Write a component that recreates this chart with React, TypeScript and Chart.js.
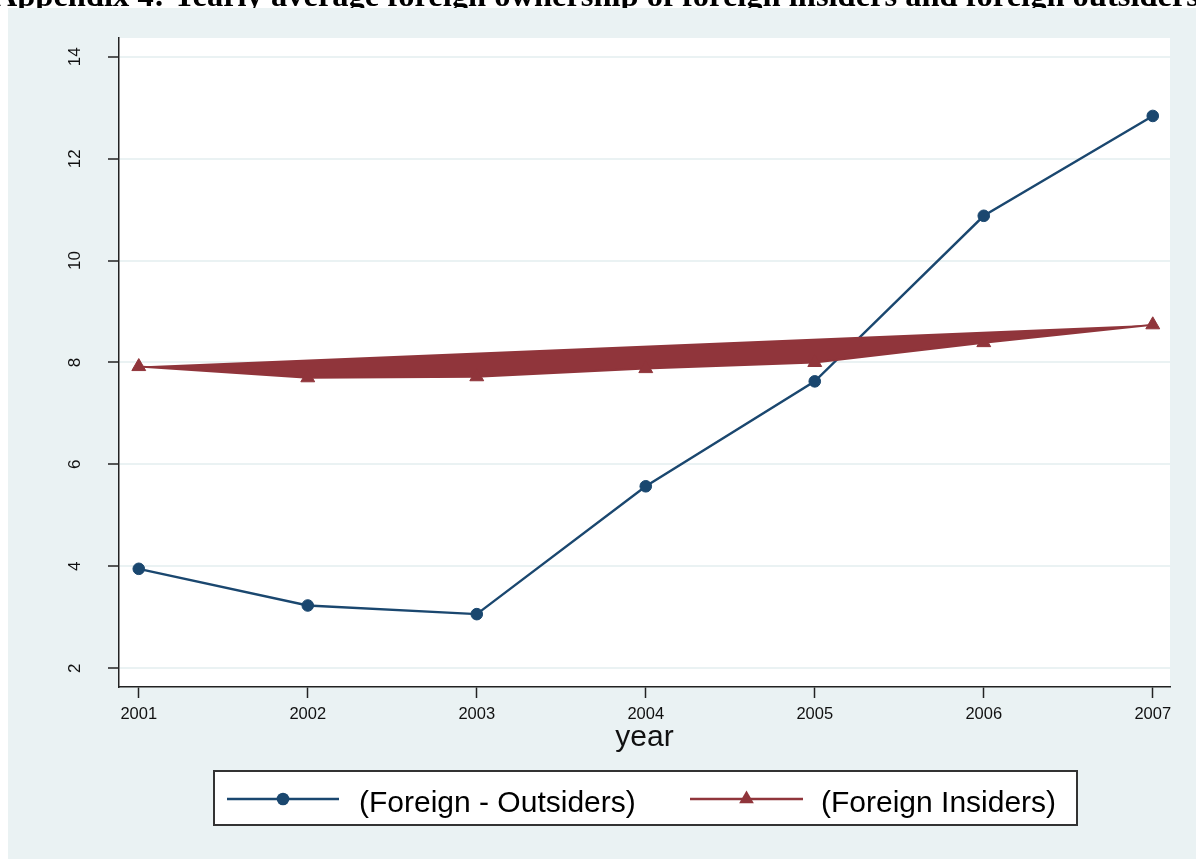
import React, { useEffect, useRef } from 'react';
import { Chart, registerables } from 'chart.js';

Chart.register(...registerables);

const years = [2001, 2002, 2003, 2004, 2005, 2006, 2007];
const outsiders = [3.95, 3.23, 3.06, 5.57, 7.63, 10.88, 12.84];
const insiders = [7.92, 7.7, 7.72, 7.88, 8.0, 8.39, 8.74];
const yTicks = [2, 4, 6, 8, 10, 12, 14];
const xTicks = [2001, 2002, 2003, 2004, 2005, 2006, 2007];
const seriesLabels = ['(Foreign - Outsiders)', '(Foreign Insiders)'];
const titleText =
  'Appendix 4: Yearly average foreign ownership of foreign insiders and foreign outsiders';
const xAxisTitle = 'year';

const NAVY = '#1a476f';
const MAROON = '#90353b';
const PANEL = '#eaf2f3';
const AXIS = '#222222';
const SANS = '"Liberation Sans", Arial, sans-serif';

const W = 1196;
const H = 859;

const framePlugin = {
  id: 'frame',
  beforeDraw(chart: any) {
    const { ctx, chartArea: a } = chart;
    ctx.save();
    ctx.fillStyle = '#ffffff';
    ctx.fillRect(0, 0, W, H);
    ctx.fillStyle = '#000000';
    ctx.font = 'bold 32.5px "Liberation Serif", "Times New Roman", serif';
    ctx.textAlign = 'right';
    ctx.textBaseline = 'alphabetic';
    ctx.fillText(titleText, 1199, 6);
    ctx.fillStyle = PANEL;
    ctx.fillRect(8, 8, W - 8, H - 8);
    ctx.fillStyle = '#ffffff';
    ctx.fillRect(a.left, a.top, a.right - a.left, a.bottom - a.top);
    ctx.restore();
  },
  afterDraw(chart: any) {
    const { ctx } = chart;
    ctx.save();
    ctx.fillStyle = '#ffffff';
    ctx.fillRect(214, 771, 863, 54);
    ctx.strokeStyle = '#333333';
    ctx.lineWidth = 2;
    ctx.strokeRect(214, 771, 863, 54);
    const items = [
      { x1: 227, x2: 339, tx: 359 },
      { x1: 690, x2: 803, tx: 821 },
    ];
    const ly = 799;
    chart.data.datasets.forEach((ds: any, i: number) => {
      const it = items[i];
      if (!it) return;
      ctx.strokeStyle = ds.borderColor;
      ctx.lineWidth = 2.5;
      ctx.beginPath();
      ctx.moveTo(it.x1, ly);
      ctx.lineTo(it.x2, ly);
      ctx.stroke();
      const cx = (it.x1 + it.x2) / 2;
      ctx.fillStyle = ds.borderColor;
      ctx.beginPath();
      if (ds.pointStyle === 'triangle') {
        const r = 8.5;
        ctx.moveTo(cx, ly - r);
        ctx.lineTo(cx + r * 0.866, ly + r / 2);
        ctx.lineTo(cx - r * 0.866, ly + r / 2);
        ctx.closePath();
      } else {
        ctx.arc(cx, ly, 6.3, 0, Math.PI * 2);
      }
      ctx.fill();
      ctx.fillStyle = '#000000';
      ctx.font = '30px ' + SANS;
      ctx.textAlign = 'left';
      ctx.textBaseline = 'alphabetic';
      ctx.fillText(ds.label, it.tx, 812);
    });
    ctx.restore();
  },
};

export default function App() {
  const ref = useRef<HTMLCanvasElement | null>(null);

  useEffect(() => {
    if (!ref.current) return;
    const chart = new Chart(ref.current, {
      type: 'line',
      data: {
        datasets: [
          {
            label: seriesLabels[0],
            data: years.map((x, i) => ({ x, y: outsiders[i] })),
            borderColor: NAVY,
            backgroundColor: NAVY,
            borderWidth: 2.4,
            pointStyle: 'circle',
            pointRadius: 5.8,
            pointBorderWidth: 1,
            pointBackgroundColor: NAVY,
            pointBorderColor: NAVY,
            tension: 0,
            fill: false,
            order: 1,
          },
          {
            label: seriesLabels[1],
            data: years.map((x, i) => ({ x, y: insiders[i] })),
            borderColor: MAROON,
            backgroundColor: MAROON,
            borderWidth: 2,
            pointStyle: 'triangle',
            pointRadius: 8,
            pointBorderWidth: 1,
            pointBackgroundColor: MAROON,
            pointBorderColor: MAROON,
            tension: 0,
            fill: 'shape',
            order: 0,
          },
        ],
      },
      options: {
        responsive: false,
        animation: false,
        layout: { padding: { left: 0, top: 38, right: 26, bottom: 106 } },
        plugins: {
          legend: { display: false },
          tooltip: { enabled: false },
          title: { display: false },
        },
        scales: {
          x: {
            type: 'linear',
            min: 2000.883,
            max: 2007.102,
            afterFit: (s: any) => {
              s.height = 66;
            },
            afterBuildTicks: (s: any) => {
              s.ticks = xTicks.map((v) => ({ value: v }));
            },
            grid: {
              drawOnChartArea: false,
              drawTicks: true,
              tickLength: 11,
              tickColor: AXIS,
              tickWidth: 1.5,
            },
            border: { display: true, color: AXIS, width: 1.5 },
            ticks: {
              color: '#111111',
              padding: 7,
              maxRotation: 0,
              autoSkip: false,
              font: { family: SANS, size: 16.5, lineHeight: 1.2 },
              callback: (v: any) => String(v),
            },
            title: {
              display: true,
              text: xAxisTitle,
              color: '#111111',
              padding: 0,
              font: { family: SANS, size: 30, lineHeight: 1 },
            },
          },
          y: {
            type: 'linear',
            min: 1.63,
            max: 14.37,
            afterFit: (s: any) => {
              s.width = 119;
            },
            afterBuildTicks: (s: any) => {
              s.ticks = yTicks.map((v) => ({ value: v }));
            },
            grid: {
              color: PANEL,
              lineWidth: 2,
              drawTicks: true,
              tickLength: 11,
              tickColor: AXIS,
              tickWidth: 1.5,
            },
            border: { display: true, color: AXIS, width: 1.5 },
            ticks: {
              color: '#111111',
              padding: 23,
              minRotation: 90,
              maxRotation: 90,
              crossAlign: 'center',
              autoSkip: false,
              font: { family: SANS, size: 17, lineHeight: 1.2 },
              callback: (v: any) => String(v),
            },
          },
        },
      },
      plugins: [framePlugin],
    } as any);
    return () => chart.destroy();
  }, []);

  return (
    <div style={{ position: 'fixed', left: 0, top: 0, width: W, height: H }}>
      <canvas ref={ref} width={W} height={H} style={{ width: W, height: H, display: 'block' }} />
    </div>
  );
}
